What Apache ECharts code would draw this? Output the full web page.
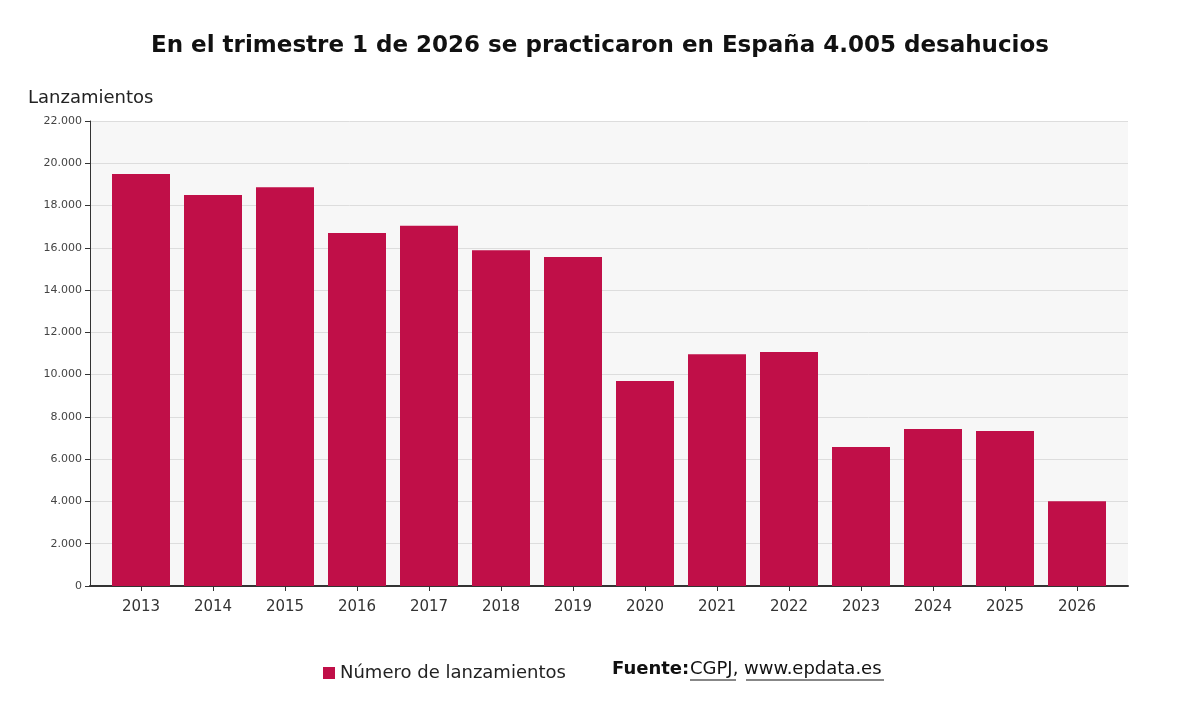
<!DOCTYPE html>
<html lang="es">
<head>
    <meta charset="UTF-8">
    <title>Desahucios</title>
    <script src="https://cdn.jsdelivr.net/npm/echarts@6/dist/echarts.min.js"></script>
    <style>body{margin:0;background:#fff;}</style>
</head>
<body>
<div id='box' style="width: 1200px;height:720px;"></div>
<script>
    var years = ['2013', '2014', '2015', '2016', '2017', '2018', '2019', '2020', '2021', '2022', '2023', '2024', '2025', '2026'];
    var lanzamientos = [19490, 18500, 18870, 16700, 17040, 15890, 15560, 9700, 10970, 11070, 6580, 7430, 7330, 4005];

    var myChart = echarts.init(document.getElementById('box'));
    var fmt = function (v) { return String(v).replace(/\B(?=(\d{3})+(?!\d))/g, '.'); };
    var option = {
        textStyle: {fontFamily: 'DejaVu Sans'},
        title: {
            text: 'En el trimestre 1 de 2026 se practicaron en España 4.005 desahucios',
            left: 'center', top: 30,
            textStyle: {fontSize: 23, fontWeight: 'bold', color: '#111'}
        },
        legend: {
            data: ['Número de lanzamientos'],
            left: 318, top: 659,
            icon: 'rect', itemWidth: 12, itemHeight: 12,
            textStyle: {fontSize: 18, color: '#222'}
        },
        graphic: [
            {type: 'text', left: 612, top: 660, style: {text: 'Fuente:', font: 'bold 18px DejaVu Sans', fill: '#111'}},
            {type: 'text', left: 690, top: 660, style: {text: 'CGPJ, www.epdata.es', font: '18px DejaVu Sans', fill: '#111'}},
            {type: 'line', shape: {x1: 690, y1: 680, x2: 736, y2: 680}, style: {stroke: '#111'}},
            {type: 'line', shape: {x1: 746, y1: 680, x2: 884, y2: 680}, style: {stroke: '#111'}}
        ],
        grid: [
            {left: 90, right: 72, top: 121, bottom: 134, backgroundColor: '#f7f7f7', show: true, borderWidth: 0},
            {left: 105, right: 87, top: 121, bottom: 134}
        ],
        xAxis: [{
            gridIndex: 0, type: 'category', data: years,
            axisLine: {lineStyle: {color: '#333', width: 2}},
            axisTick: {show: false}, axisLabel: {show: false}
        }, {
            gridIndex: 1, type: 'category', data: years,
            axisLine: {show: false},
            axisTick: {show: true, alignWithLabel: true, length: 5, lineStyle: {color: '#333'}},
            axisLabel: {fontSize: 15, color: '#333', margin: 14}
        }],
        yAxis: [{
            gridIndex: 0, type: 'value', min: 0, max: 22000, interval: 2000,
            name: 'Lanzamientos', nameLocation: 'end', nameGap: 14,
            nameTextStyle: {fontSize: 18, color: '#222', align: 'left', padding: [0, 0, 0, -62]},
            axisLine: {show: true, lineStyle: {color: '#333'}},
            axisTick: {show: true, length: 5, lineStyle: {color: '#333'}},
            axisLabel: {fontSize: 11, color: '#444', formatter: fmt},
            splitLine: {lineStyle: {color: '#dddddd'}}
        }, {
            gridIndex: 1, type: 'value', min: 0, max: 22000, interval: 2000, show: false
        }],
        series: [{
            name: 'Número de lanzamientos', type: 'bar',
            xAxisIndex: 1, yAxisIndex: 1,
            data: lanzamientos, barWidth: 58,
            itemStyle: {color: '#c00f48'}
        }]
    };
    myChart.setOption(option);
</script>
</body>
</html>
